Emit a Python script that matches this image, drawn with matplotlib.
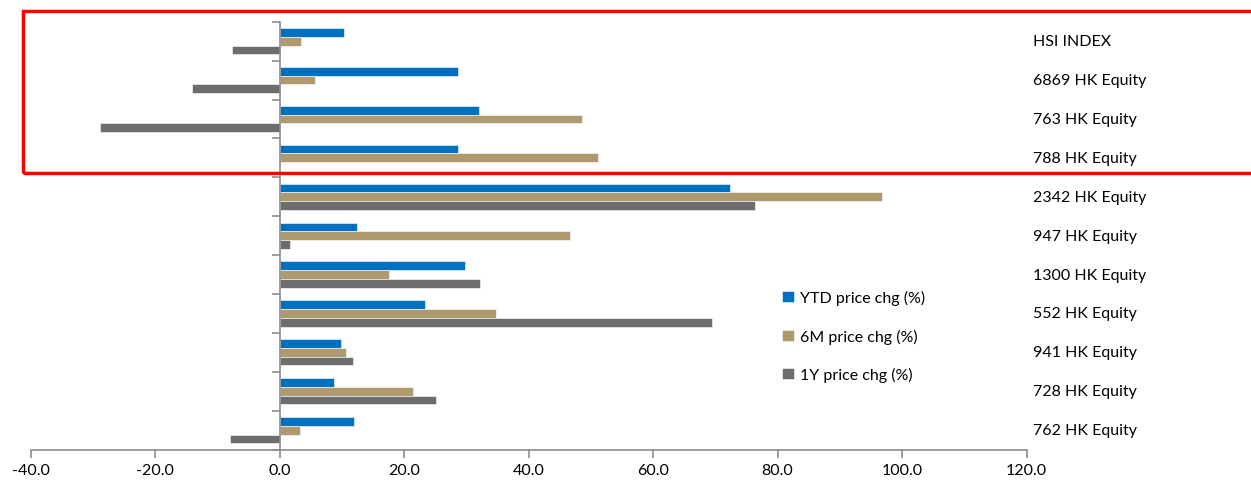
import numpy as np
import matplotlib
matplotlib.use("Agg")
import matplotlib.pyplot as plt
from matplotlib.patches import Rectangle
from matplotlib.ticker import FormatStrFormatter

# categories top to bottom
stocks = ["HSI INDEX", "6869 HK Equity", "763 HK Equity", "788 HK Equity",
          "2342 HK Equity", "947 HK Equity", "1300 HK Equity", "552 HK Equity",
          "941 HK Equity", "728 HK Equity", "762 HK Equity"]

ytd_chg = [10.4, 28.6, 32.1, 28.6, 72.3, 12.4, 29.8, 23.3, 9.9, 8.7, 11.9]
m6_chg = [3.4, 5.7, 48.6, 51.2, 96.7, 46.6, 17.5, 34.7, 10.7, 21.5, 3.2]
y1_chg = [-7.7, -14.0, -28.8, 0.0, 76.3, 1.7, 32.2, 69.4, 11.8, 25.2, -7.9]

series_names = ["YTD price chg (%)", "6M price chg (%)", "1Y price chg (%)"]
colors = ["#0070C0", "#AE9A6E", "#6D6D6D"]

plt.rcParams["font.family"] = ["Lato", "DejaVu Sans"]

fig = plt.figure(figsize=(12.51, 4.81), dpi=100)
ax = fig.add_axes([0.0245, 0.0632, 0.7961, 0.8896])

pos = np.arange(len(stocks))
h = 0.225
for i, (vals, name, c) in enumerate(zip([ytd_chg, m6_chg, y1_chg], series_names, colors)):
    ax.barh(pos + (i - 1) * h, vals, height=h, color=c, label=name,
            edgecolor="white", linewidth=0.4)

ax.set_xlim(-40, 120)
ax.set_ylim(len(stocks) - 0.5, -0.5)
ax.xaxis.set_major_formatter(FormatStrFormatter("%.1f"))
ax.set_xticks(np.arange(-40, 121, 20))

# y axis sits at zero, tick marks between categories
ax.spines["left"].set_position(("data", 0))
ax.spines["right"].set_visible(False)
ax.spines["top"].set_visible(False)
for s in ["left", "bottom"]:
    ax.spines[s].set_color("#8C8C8C")
    ax.spines[s].set_linewidth(1.2)
ax.set_yticks(np.arange(-0.5, len(stocks), 1.0))
ax.set_yticklabels([])
ax.tick_params(axis="y", length=6, color="#8C8C8C", width=1.2)
ax.tick_params(axis="x", length=6, color="#8C8C8C", width=1.2, labelsize=11.5, pad=4)

# category names to the right of the plot
for p, name in zip(pos, stocks):
    ax.annotate(name, xy=(1.0, p), xycoords=("axes fraction", "data"),
                xytext=(4.5, 0), textcoords="offset points",
                ha="left", va="center", fontsize=11.5)

ax.legend(loc="upper left", bbox_to_anchor=(0.614, 0.424), bbox_transform=fig.transFigure,
          frameon=False, fontsize=11.5, handlelength=0.7, handleheight=0.7,
          handletextpad=0.4, labelspacing=1.45)

# red highlight box
fig.patches.append(Rectangle((23 / 1251, 1 - 174 / 481), 1.0, 162 / 481,
                             transform=fig.transFigure, fill=False,
                             edgecolor="#FF0000", linewidth=2.5))

plt.savefig("out.png", dpi=100)
